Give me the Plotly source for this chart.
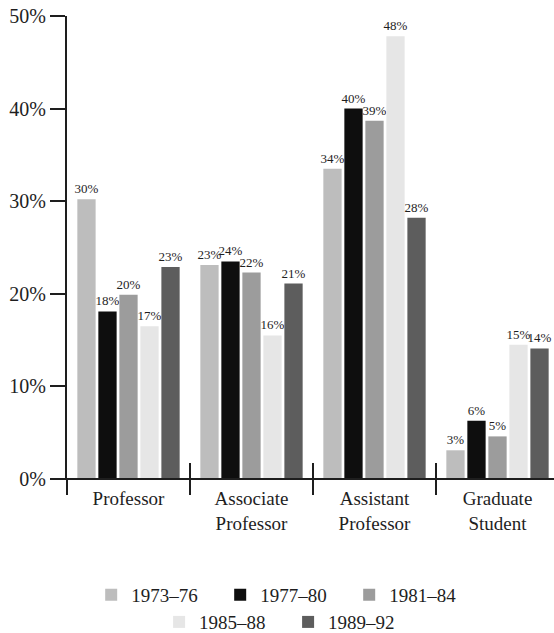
import plotly.graph_objects as go

categories = ["Professor", "Associate<br>Professor", "Assistant<br>Professor", "Graduate<br>Student"]
periods = ["1973–76", "1977–80", "1981–84", "1985–88", "1989–92"]
values = {
    "1973–76": [30.2, 23.1, 33.5, 3.1],
    "1977–80": [18.1, 23.5, 40.0, 6.3],
    "1981–84": [19.9, 22.3, 38.7, 4.6],
    "1985–88": [16.5, 15.5, 47.8, 14.5],
    "1989–92": [22.9, 21.1, 28.2, 14.1],
}
labels = {
    "1973–76": ["30%", "23%", "34%", "3%"],
    "1977–80": ["18%", "24%", "40%", "6%"],
    "1981–84": ["20%", "22%", "39%", "5%"],
    "1985–88": ["17%", "16%", "48%", "15%"],
    "1989–92": ["23%", "21%", "28%", "14%"],
}
colors = ["#bdbdbd", "#0e0e0e", "#9c9c9c", "#e6e6e6", "#5d5d5d"]
y_ticks = [0, 10, 20, 30, 40, 50]
y_ticktext = ["0%", "10%", "20%", "30%", "40%", "50%"]

W, H = 554, 633
ML, MT, MR, MB = 67, 16, 0, 154
PW, PH = W - ML - MR, H - MT - MB
cat_px = 123.0
xr0 = -0.5
xr1 = xr0 + PW / cat_px

FONT = "Liberation Serif"
INK = "#1e1e1e"

fig = go.Figure()
x_idx = list(range(len(categories)))
for i, p in enumerate(periods):
    fig.add_trace(go.Bar(
        x=x_idx, y=values[p], name=p,
        marker=dict(color=colors[i], line=dict(width=0)),
        text=labels[p], textposition="outside",
        textfont=dict(family=FONT, size=13, color=INK),
        constraintext="none",
        cliponaxis=False,
        legend="legend" if i < 3 else "legend2",
    ))

shapes = []
# x axis line extending left of y axis
shapes.append(dict(type="line", xref="paper", yref="paper",
                   x0=-17 / PW, x1=1, y0=0, y1=0,
                   line=dict(color=INK, width=2)))
# y axis extension below baseline
shapes.append(dict(type="line", xref="paper", yref="paper",
                   x0=0, x1=0, y0=0, y1=-16 / PH,
                   line=dict(color=INK, width=2)))
# category separators
for k in range(len(categories) - 1):
    xp = (k + 0.5 - xr0) / (xr1 - xr0)
    shapes.append(dict(type="line", xref="paper", yref="paper",
                       x0=xp, x1=xp, y0=-16 / PH, y1=16 / PH,
                       line=dict(color=INK, width=2)))

fig.update_layout(
    width=W, height=H,
    margin=dict(l=ML, r=MR, t=MT, b=MB, autoexpand=False),
    paper_bgcolor="white", plot_bgcolor="white",
    barmode="group", bargap=0.146, bargroupgap=0.13,
    font=dict(family=FONT, color=INK),
    showlegend=True,
    shapes=shapes,
    xaxis=dict(range=[xr0, xr1], tickvals=x_idx, ticktext=categories,
               showline=False, showgrid=False, zeroline=False, ticks="",
               tickfont=dict(family=FONT, size=19, color=INK),
               ticklabelstandoff=6, automargin=False),
    yaxis=dict(range=[0, 50], tickvals=y_ticks, ticktext=y_ticktext,
               showline=True, linecolor=INK, linewidth=2,
               ticks="outside", ticklen=15, tickwidth=2, tickcolor=INK,
               showgrid=False, zeroline=False, automargin=False,
               tickfont=dict(family=FONT, size=20, color=INK)),
    legend=dict(orientation="h", x=0.447, xanchor="center", y=-0.2505, yanchor="middle",
                font=dict(family=FONT, size=19, color=INK), traceorder="normal",
                entrywidth=84, itemclick=False, bgcolor="rgba(0,0,0,0)"),
    legend2=dict(orientation="h", x=0.454, xanchor="center", y=-0.309, yanchor="middle",
                 font=dict(family=FONT, size=19, color=INK), traceorder="normal",
                 entrywidth=84, itemclick=False, bgcolor="rgba(0,0,0,0)"),
)

fig.write_html("out.html", config={"displayModeBar": False},
               post_script="document.body.style.margin='0';document.body.style.overflow='hidden';")
